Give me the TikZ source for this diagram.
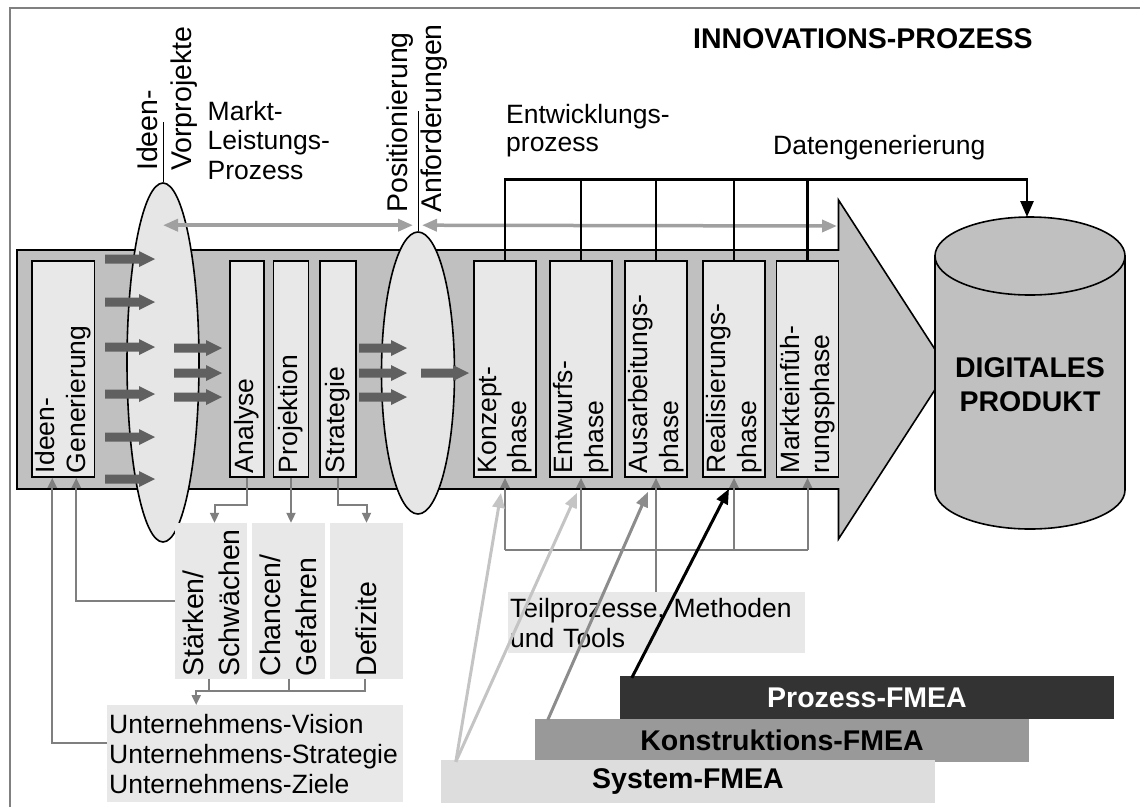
\documentclass[tikz,border=0pt]{standalone}
\usepackage{fontspec}
\setmainfont{Liberation Sans}
\usetikzlibrary{arrows.meta,calc,shapes.geometric}

\definecolor{bandgray}{HTML}{C0C0C0}
\definecolor{boxgray}{HTML}{E8E8E8}
\definecolor{ellgray}{HTML}{E6E6E6}
\definecolor{blockgray}{HTML}{606060}
\definecolor{dblgray}{HTML}{A0A0A0}
\definecolor{conngray}{HTML}{7F7F7F}
\definecolor{framegray}{HTML}{808080}
\definecolor{pfmea}{HTML}{333333}
\definecolor{kfmea}{HTML}{999999}
\definecolor{sfmea}{HTML}{DDDDDD}
\definecolor{lightarr}{HTML}{C4C4C4}
\definecolor{midarr}{HTML}{8C8C8C}

\newcommand\myblockarrow[3]{\fill[blockgray] (#1,#3-4.5) -- (#2-16,#3-4.5) -- (#2-16,#3-8) -- (#2,#3) -- (#2-16,#3+8) -- (#2-16,#3+4.5) -- (#1,#3+4.5) -- cycle;}

\tikzset{
  fnorm/.style={font=\fontsize{26.5}{29.5}\selectfont},
  frot/.style={font=\fontsize{28.5}{33.5}\selectfont},
  fbold/.style={font=\fontsize{28.5}{34}\selectfont\bfseries},
  pbox/.style={draw=black, line width=1.6pt, fill=boxgray, rotate=90, minimum width=216pt,
    inner xsep=4pt, inner ysep=0pt, text width=208pt, align=left, font=\fontsize{26.5}{30.5}\selectfont},
  lrot/.style={fill=boxgray, rotate=90, minimum width=156pt, inner xsep=2.5pt, inner ysep=0pt,
    text width=151pt, align=left, font=\fontsize{28.5}{36}\selectfont},
  lbox/.style={fill=boxgray, inner xsep=2pt, inner ysep=0pt, align=left, font=\fontsize{26.5}{30}\selectfont},
  ell/.style={ellipse, draw=black, line width=1.6pt, fill=ellgray, inner sep=0pt},
  gconn/.style={draw=conngray, line width=2pt},
  garrow/.style={-{Triangle[length=10pt,width=9pt]}},
  dblarr/.style={draw=dblgray, line width=3.5pt, {Triangle[length=15pt,width=12pt]}-{Triangle[length=15pt,width=12pt]}},
  bus/.style={draw=black, line width=2.7pt},
  fmeabox/.style={inner sep=0pt, minimum width=494pt, minimum height=43pt, font=\fontsize{28.5}{34}\selectfont\bfseries},
  fmarr/.style={line width=3pt, -{Triangle[length=15pt,width=12pt]}}
}

\begin{document}
\begin{tikzpicture}[x=1pt,y=-1pt,line join=miter]
\useasboundingbox (0,0) rectangle (1140,807);

% frame
\draw[framegray, line width=2pt] (9.5,807) -- (9.5,7.5) -- (1140,7.5);

% big process arrow
\draw[fill=bandgray, line width=1.6pt] (17,250) -- (838.5,250) -- (838.5,200) -- (948,369.5)
  -- (838.5,539) -- (838.5,489) -- (17,489) -- cycle;

% lens ellipses
\node[ell, minimum width=72pt, minimum height=359pt] (e1) at (163,362.5) {};
\node[ell, minimum width=73pt, minimum height=282pt] (e2) at (418,373) {};

% phase boxes
\node[pbox, minimum height=62.5pt] (ideen) at (63.25,369) {Ideen-\\Generierung};
\node[pbox, minimum height=34pt] (ana) at (247,369) {Analyse};
\node[pbox, minimum height=35pt] (proj) at (291,369) {Projektion};
\node[pbox, minimum height=36pt] (strat) at (338,369) {Strategie};
\node[pbox, minimum height=62pt] (konz) at (505,369) {Konzept-\\phase};
\node[pbox, minimum height=62pt] (entw) at (581,369) {Entwurfs-\\phase};
\node[pbox, minimum height=62pt] (ausa) at (656,369) {Ausarbeitungs-\\phase};
\node[pbox, minimum height=62pt] (real) at (734,369) {Realisierungs-\\phase};
\node[pbox, minimum height=62pt] (mark) at (807.5,369) {Markteinfüh-\\rungsphase};

% dark block arrows
\foreach \yy in {259,302,347,394,437,479} {\myblockarrow{105}{155}{\yy}}
\foreach \yy in {348,373,397} {\myblockarrow{174}{222}{\yy}}
\foreach \yy in {348,373,397} {\myblockarrow{359}{407}{\yy}}
\myblockarrow{421}{469}{373}

% top rotated labels and separators
\node[frot, rotate=90, anchor=west, align=left, inner sep=0pt] (iv) at (167,171) {Ideen-\\Vorprojekte};
\node[frot, rotate=90, anchor=west, align=left, inner sep=0pt] (pa) at (417,213) {Positionierung\\Anforderungen};
\draw[line width=1pt] (e1.north) -- ++(0,-60);
\draw[line width=1pt] (e2.north) -- ++(0,-120);

% gray double arrows
\coordinate (dblend) at (837,226);
\draw[dblarr] ([yshift=-43pt]e1.north) -- ([xshift=-5pt,yshift=6pt]e2.north);
\draw[dblarr] ([xshift=4pt,yshift=6pt]e2.north) -- (dblend);

% data bus to the product
\coordinate (cyltop) at (1027,217);
\draw[bus, -{Triangle[length=16pt,width=13pt]}] (konz.east) -- (konz.east |- 0,179.5) -| (cyltop);
\foreach \nn in {entw,ausa,real,mark} {\draw[bus] (\nn.east) -- (\nn.east |- 0,179.5);}

% cylinder
\draw[fill=bandgray, line width=1.6pt] (935,256) -- (935,490)
  .. controls (935,511.5) and (977.5,529) .. (1030,529)
  .. controls (1082.5,529) and (1125,511.5) .. (1125,490) -- (1125,256) -- cycle;
\draw[fill=bandgray, line width=1.6pt] (1030,256) ellipse [x radius=95, y radius=39];
\node[fbold, align=center, inner sep=0pt] (dp) at (1030,385) {DIGITALES\\PRODUKT};

% lower left boxes
\node[lrot, minimum height=72pt] (sw) at (211,601) {Stärken/\\Schwächen};
\node[lrot, minimum height=73pt] (cg) at (288.5,601) {Chancen/\\Gefahren};
\node[lrot, minimum height=73pt] (def) at (366.5,601) {Defizite};
\node[lbox, anchor=north west, minimum width=296pt, minimum height=97pt, text width=292pt] (unt) at (107,705)
  {Unternehmens-Vision\\Unternehmens-Strategie\\Unternehmens-Ziele};
\node[lbox, anchor=north west, minimum width=296.5pt, minimum height=61pt, text width=292.5pt] (teil) at (508,592)
  {Teilprozesse, Methoden\\und Tools};

% gray connectors left part
\draw[gconn, garrow] (ana.west) -- ++(0,27) -| ([xshift=3.5pt]sw.east);
\draw[gconn, garrow] (proj.west) -- (proj.west |- cg.east);
\draw[gconn, garrow] (strat.west) -- ++(0,27) -| (def.east);
\draw[gconn] ([xshift=-2pt]sw.west) -- ++(0,12) -| ([xshift=-1.5pt]def.west);
\draw[gconn] (cg.west) -- ++(0,12);
\draw[gconn, garrow] ([xshift=-2pt,yshift=-12pt]sw.west) -| ([xshift=-59pt]unt.north);
\draw[gconn, garrow] (sw.north) -| ([xshift=13pt]ideen.west);
\draw[gconn, garrow] ([yshift=10.5pt]unt.west) -| ([xshift=-11pt]ideen.west);

% gray connectors development part
\draw[gconn] (konz.west |- 0,550) -- (mark.west |- 0,550);
\foreach \nn in {konz,entw,real,mark} {\draw[gconn, garrow] (\nn.west |- 0,550) -- (\nn.west);}
\draw[gconn, garrow] (teil.north -| ausa.west) -- (ausa.west);

% FMEA boxes
\node[fmeabox, fill=pfmea, text=white] (pf) at (867,697.5) {Prozess-FMEA};
\node[fmeabox, fill=kfmea] (kf) at (782,740.5) {Konstruktions-FMEA};
\node[fmeabox, fill=sfmea] (sf) at (688,781.5) {System-FMEA};

% FMEA arrows
\draw[fmarr, draw=lightarr, fill=lightarr] ([xshift=15pt,yshift=-2pt]sf.north west) -- ([xshift=-4pt,yshift=-15pt]konz.west);
\draw[fmarr, draw=lightarr, fill=lightarr] ([xshift=15pt,yshift=-2pt]sf.north west) -- ([xshift=-4pt,yshift=-15pt]entw.west);
\draw[fmarr, draw=midarr, fill=midarr] ([xshift=13pt,yshift=-1pt]kf.north west) -- ([xshift=-8pt,yshift=-14pt]ausa.west);
\draw[fmarr, draw=black, fill=black] ([xshift=12pt,yshift=-2pt]pf.north west) -- ([xshift=-5pt,yshift=-11pt]real.west);

% texts
\node[fbold, anchor=base west, inner sep=0pt] (title) at (693,48) {INNOVATIONS-PROZESS};
\node[fnorm, anchor=north west, align=left, inner sep=0pt] (mlp) at (207.5,100.7) {Markt-\\Leistungs-\\Prozess};
\node[font=\fontsize{26.5}{28.5}\selectfont, anchor=north west, align=left, inner sep=0pt] (ep) at (506,104) {Entwicklungs-\\prozess};
\node[fnorm, anchor=base west, inner sep=0pt] (dg) at (773,154.3) {Datengenerierung};
\end{tikzpicture}
\end{document}
